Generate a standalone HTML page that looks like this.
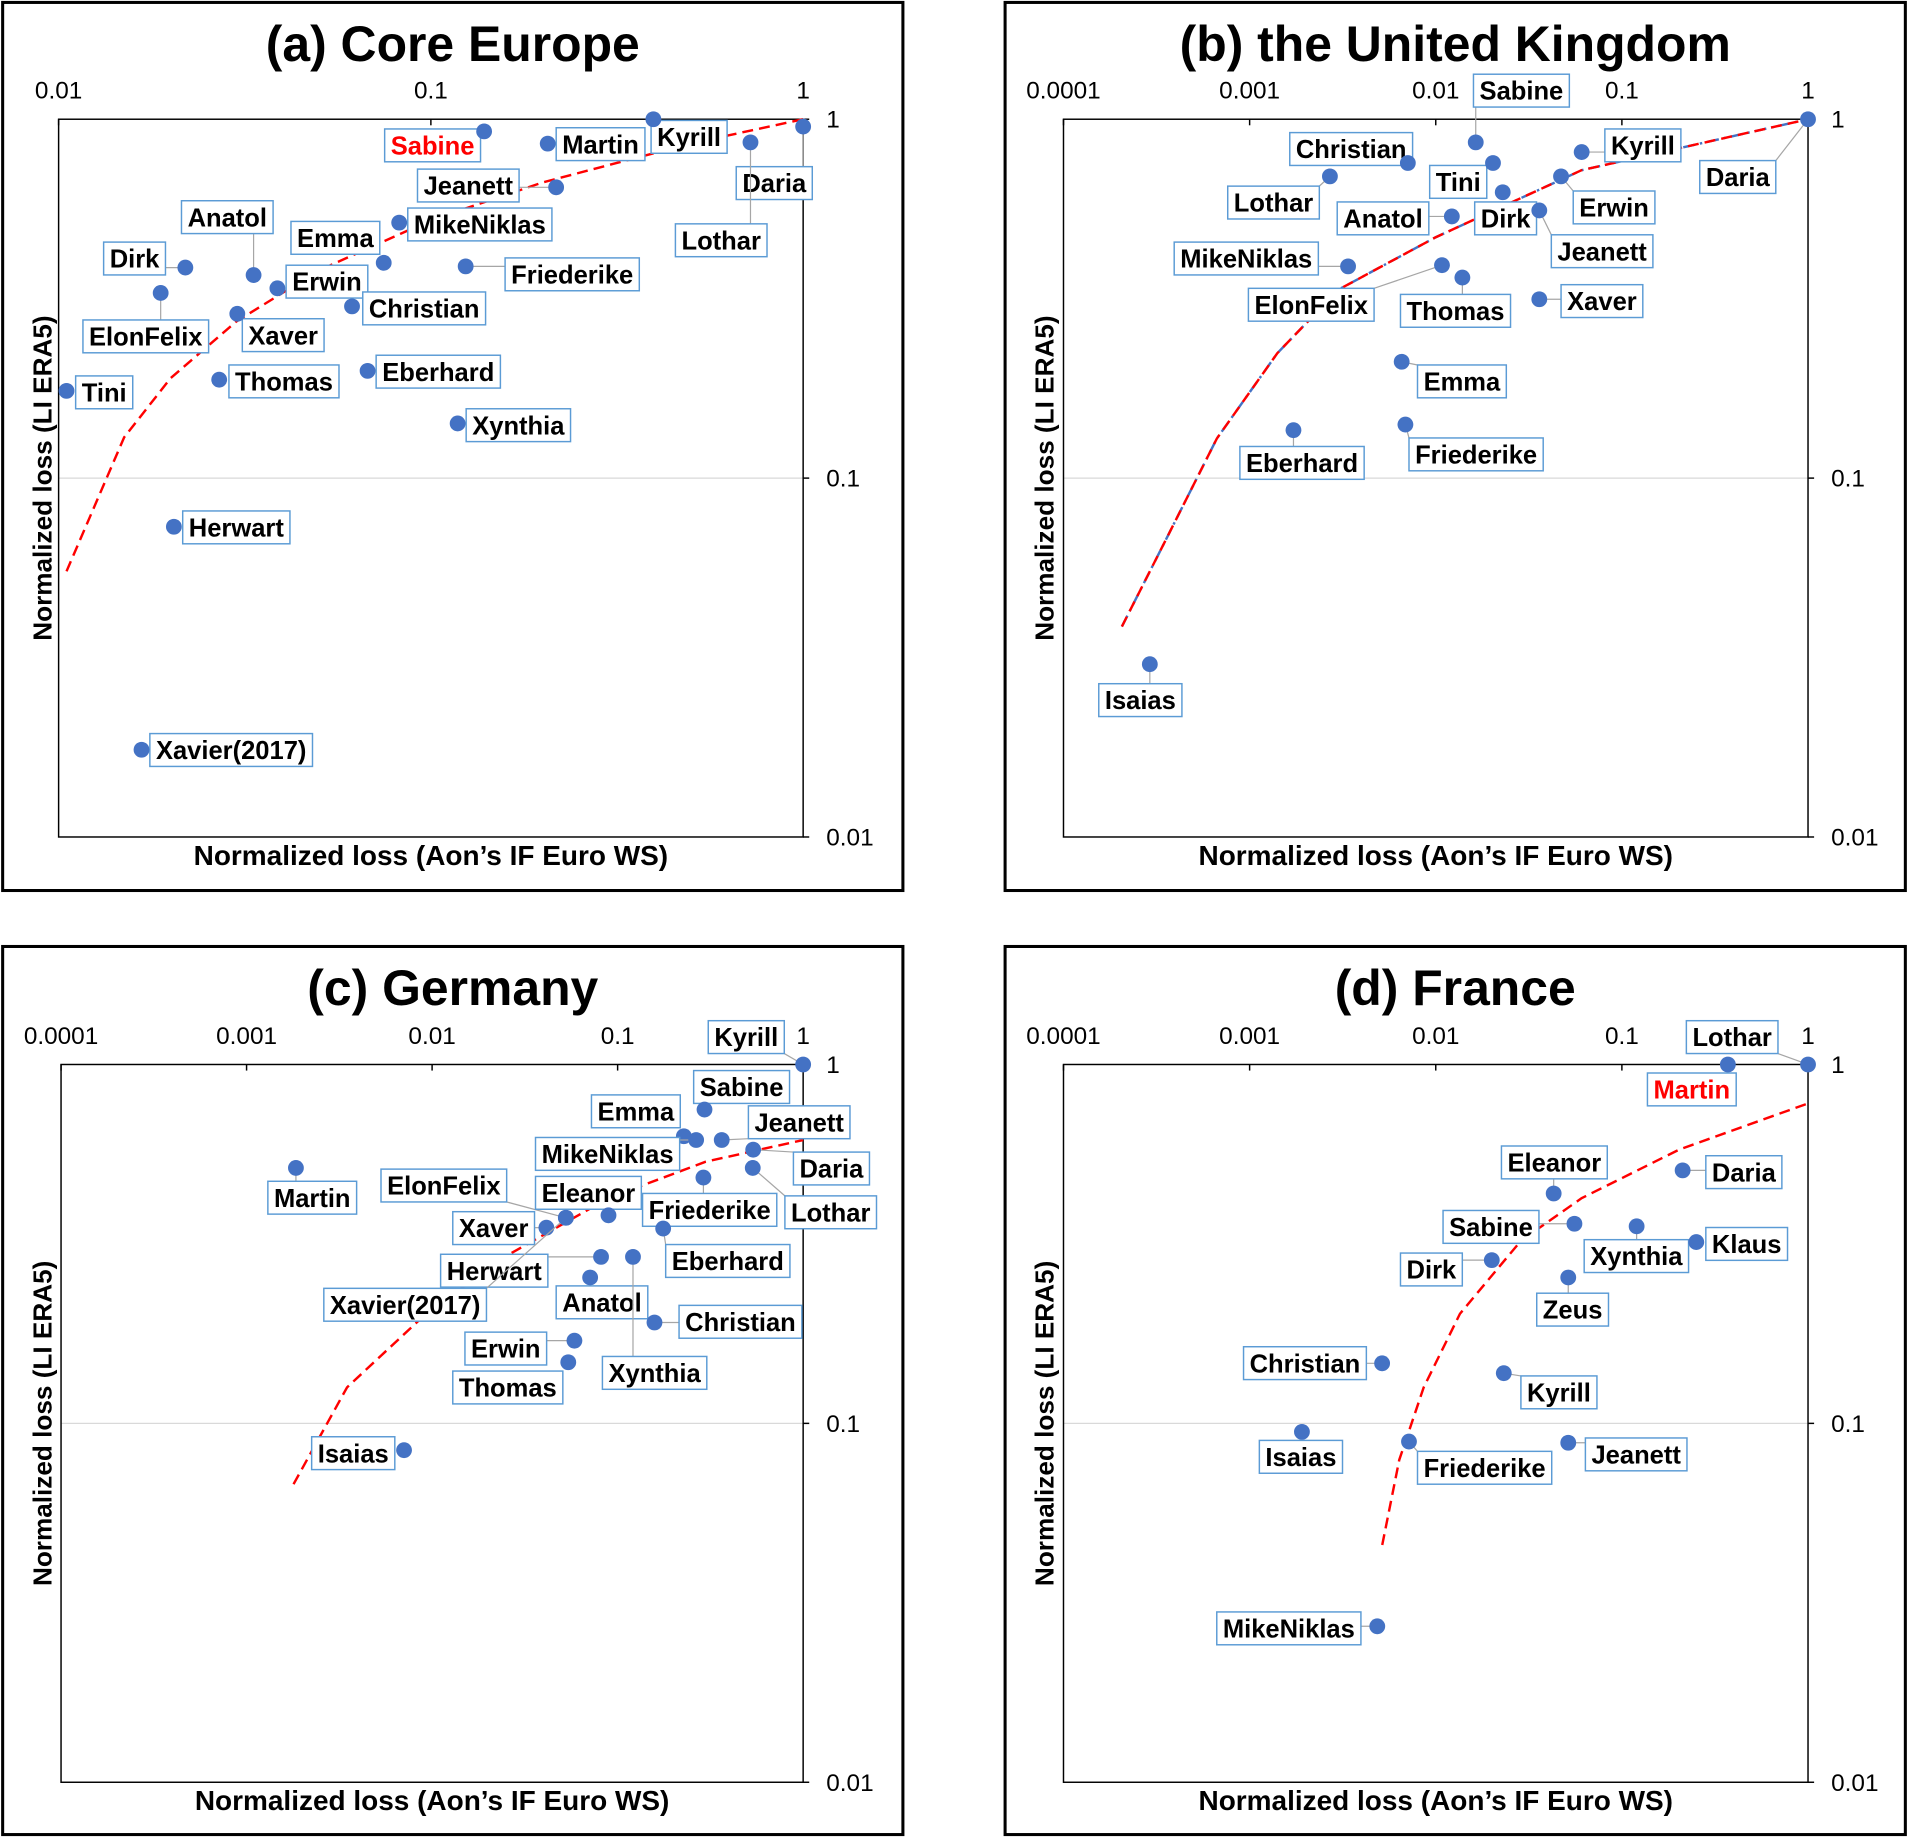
<!DOCTYPE html>
<html><head><meta charset="utf-8">
<style>
html,body{margin:0;padding:0;background:#fff;}
svg{display:block;font-family:"Liberation Sans",Arial,sans-serif;}
</style></head>
<body>
<svg id="chart" width="1908" height="1837" viewBox="0 0 1568 1510" xmlns="http://www.w3.org/2000/svg"></svg>
<script>
// ---------- data ----------
const namesA = ["Sabine","Martin","Kyrill","Daria","Lothar","Jeanett","MikeNiklas","Emma","Anatol","Dirk","Erwin","Friederike","ElonFelix","Xaver","Christian","Thomas","Eberhard","Tini","Xynthia","Herwart","Xavier(2017)"];
const xA = [0.139,0.206,0.396,1.0,0.722,0.217,0.0822,0.0747,0.0334,0.0219,0.0387,0.124,0.0188,0.0302,0.0614,0.027,0.0676,0.0105,0.118,0.0204,0.0167];
const yA = [0.925,0.855,1.0,0.954,0.862,0.646,0.515,0.398,0.368,0.386,0.338,0.389,0.328,0.287,0.301,0.188,0.199,0.175,0.142,0.0732,0.0175];
const fitXA = [0.0105,0.015,0.02,0.03,0.05,0.1,0.2,0.5,1];
const fitYA = [0.055,0.13,0.19,0.273,0.379,0.523,0.667,0.856,1];

const namesB = ["Daria","Kyrill","Sabine","Christian","Tini","Lothar","Erwin","Dirk","Anatol","Jeanett","MikeNiklas","ElonFelix","Thomas","Xaver","Emma","Friederike","Eberhard","Isaias"];
const xB = [1,0.0608,0.0164,0.00708,0.0203,0.0027,0.0471,0.0229,0.0122,0.036,0.00338,0.0108,0.0139,0.036,0.00656,0.00687,0.00172,0.000291];
const yB = [1,0.81,0.862,0.755,0.755,0.693,0.693,0.626,0.536,0.557,0.389,0.392,0.362,0.315,0.211,0.141,0.136,0.0303];
const fitXB = [0.000206,0.000365,0.000667,0.00141,0.003,0.01,0.0608,1];
const fitYB = [0.0386,0.0693,0.129,0.223,0.335,0.469,0.721,1];

const namesC = ["Kyrill","Sabine","Emma","MikeNiklas","Jeanett","Daria","Lothar","Friederike","Martin","ElonFelix","Eleanor","Xaver","Eberhard","Herwart","Anatol","Xavier(2017)","Christian","Xynthia","Erwin","Thomas","Isaias"];
const xC = [1,0.294,0.2275,0.265,0.364,0.538,0.535,0.29,0.001845,0.0526,0.0893,0.0413,0.176,0.0814,0.0711,0.0526,0.158,0.121,0.0585,0.0542,0.00706];
const yC = [1,0.749,0.631,0.616,0.616,0.579,0.515,0.484,0.515,0.374,0.38,0.351,0.349,0.291,0.255,0.374,0.191,0.291,0.17,0.148,0.0842];
const fitXC = [0.00179,0.00348,0.00927,0.0267,0.0893,0.2985,1];
const fitYC = [0.0677,0.126,0.202,0.298,0.424,0.536,0.616];

const namesD = ["Lothar","Martin","Daria","Eleanor","Sabine","Xynthia","Klaus","Dirk","Zeus","Christian","Kyrill","Isaias","Friederike","Jeanett","MikeNiklas"];
const xD = [1,0.371,0.212,0.043,0.0556,0.12,0.251,0.02,0.0515,0.00515,0.0232,0.00191,0.00718,0.0515,0.00485];
const yD = [1,1,0.507,0.437,0.36,0.354,0.32,0.285,0.255,0.147,0.138,0.0947,0.089,0.0883,0.0272];
const fitXD = [0.00516,0.00637,0.00861,0.0135,0.0287,0.0608,0.203,1];
const fitYD = [0.0458,0.0791,0.126,0.202,0.323,0.424,0.579,0.779];

const xTicksA = ["0.01","0.1","1"];
const xTicksWide = ["0.0001","0.001","0.01","0.1","1"];
const yTicks = ["1","0.1","0.01"];

// ---------- layout (label box top-left positions, not data) ----------
const labelPosA = [[316,106],[457,105],[535,99],[605,137],[555,184],[343,139],[335,171],[239,182],[149,165],[85,199],[235,218],[415,212],[68,263],[199,262],[298,240],[188,300],[309,292],[62,309],[383,336],[150,420],[123,603]];
const labelPosB = [[1397,132],[1319,106],[1211,61],[1060,109],[1175,136],[1009,153],[1293,157],[1212,166],[1099,166],[1275,193],[965,199],[1026,237],[1151,242],[1283,234],[1165,300],[1158,360],[1019,367],[903,562]];
const labelPosC = [[582,839],[570,880],[486,900],[440,935],[615,909],[652,947],[645,983],[528,981],[220,971],[313,961],[440,967],[372,996],[547,1023],[362,1031],[457,1057],[266,1059],[558,1073],[495,1115],[382,1095],[372,1127],[256,1181]];
const labelPosD = [[1386,839],[1354,882],[1402,950],[1234,942],[1186,995],[1302,1019],[1402,1009],[1151,1030],[1263,1063],[1022,1107],[1250,1131],[1035,1184],[1165,1193],[1303,1182],[1000,1325]];

const panels = [
 {id:"a",title:"(a) Core Europe",box:[2,2,740,730],plot:[48,98,660,688],xmin:-2,xmax:0,ticks:xTicksA,names:namesA,xs:xA,ys:yA,fx:fitXA,fy:fitYA,pos:labelPosA,red:["Sabine"],dashdot:false},
 {id:"b",title:"(b) the United Kingdom",box:[826,2,740,730],plot:[874,98,1486,688],xmin:-4,xmax:0,ticks:xTicksWide,names:namesB,xs:xB,ys:yB,fx:fitXB,fy:fitYB,pos:labelPosB,red:[],dashdot:true},
 {id:"c",title:"(c) Germany",box:[2,778,740,730],plot:[50,875,660,1465],xmin:-4,xmax:0,ticks:xTicksWide,names:namesC,xs:xC,ys:yC,fx:fitXC,fy:fitYC,pos:labelPosC,red:[],dashdot:false},
 {id:"d",title:"(d) France",box:[826,778,740,730],plot:[874,875,1486,1465],xmin:-4,xmax:0,ticks:xTicksWide,names:namesD,xs:xD,ys:yD,fx:fitXD,fy:fitYD,pos:labelPosD,red:["Martin"],dashdot:false}
];

const NS="http://www.w3.org/2000/svg";
const svg=document.getElementById("chart");
function mk(tag,attrs,parent){const e=document.createElementNS(NS,tag);for(const k in attrs)e.setAttribute(k,attrs[k]);(parent||svg).appendChild(e);return e;}

panels.forEach(p=>{
  const g=mk("g",{});
  
  
  const [L,T,R,B]=p.plot;
  const sx=v=>L+(Math.log10(v)-p.xmin)/(p.xmax-p.xmin)*(R-L);
  const sy=v=>T+(0-Math.log10(v))/2*(B-T);
  const fr=mk("rect",{x:p.box[0],y:p.box[1],width:p.box[2],height:p.box[3],fill:"none",stroke:"#000","stroke-width":2.5},g);
  
  
  const ti=mk("text",{x:p.box[0]+p.box[2]/2,y:p.box[1]+48,"text-anchor":"middle","font-size":41,"font-weight":"bold"},g);
  ti.textContent=p.title;
  
  
  const gl=mk("line",{x1:L,x2:R,y1:sy(0.1),y2:sy(0.1),stroke:"#d9d9d9","stroke-width":1},g);
  
  
  const pb=mk("rect",{x:L,y:T,width:R-L,height:B-T,fill:"none",stroke:"#000","stroke-width":1.2},g);
  
  
  p.ticks.forEach(t=>{
    const x=sx(parseFloat(t));
    const tk=mk("line",{x1:x,x2:x,y1:T,y2:T+5,stroke:"#000","stroke-width":1.2},g);
    
    
    const tl=mk("text",{x:x,y:T-17,"text-anchor":"middle","font-size":20},g);
    tl.textContent=t;
    
    
  });
  yTicks.forEach(t=>{
    const y=sy(parseFloat(t));
    const tk=mk("line",{x1:R,x2:R+5,y1:y,y2:y,stroke:"#000","stroke-width":1.2},g);
    
    
    const tl=mk("text",{x:R+19,y:y+7,"font-size":20},g);
    tl.textContent=t;
    
    
  });
  const xt=mk("text",{x:(L+R)/2,y:B+23,"text-anchor":"middle","font-size":23,"font-weight":"bold"},g);
  xt.textContent="Normalized loss (Aon’s IF Euro WS)";
  
  
  const yx=p.box[0]+40, yy=(T+B)/2;
  const yt=mk("text",{x:yx,y:yy,"text-anchor":"middle","font-size":21.5,"font-weight":"bold",transform:`rotate(-90 ${yx} ${yy})`},g);
  yt.textContent="Normalized loss (LI ERA5)";
  
  
  const d=p.fx.map((v,i)=>(i?"L":"M")+sx(v).toFixed(1)+","+sy(p.fy[i]).toFixed(1)).join(" ");
  if(p.dashdot){
    const bl=mk("path",{d:d,fill:"none",stroke:"#4472c4","stroke-width":2,"stroke-dasharray":"10 4 2 4"},g);
    
    
  }
  const fl=mk("path",{d:d,fill:"none",stroke:"#ff0000","stroke-width":2,"stroke-dasharray":"9 5"},g);
  
  
  p.names.forEach((n,i)=>{
    const px=sx(p.xs[i]), py=sy(p.ys[i]);
    const [bx,by]=p.pos[i];
    const lg=mk("g",{},g);
    
    
    const tx=mk("text",{x:bx+5,y:by+21,"font-size":21,"font-weight":"bold",fill:p.red.includes(n)?"#ff0000":"#000"},lg);
    tx.textContent=n;
    const w=tx.getComputedTextLength()+10, h=27;
    const rc=mk("rect",{x:bx,y:by,width:w,height:h,fill:"#fff",stroke:"#5b9bd5","stroke-width":1.2});
    lg.insertBefore(rc,tx);
    const cx=Math.max(bx,Math.min(px,bx+w)), cy=Math.max(by,Math.min(py,by+h));
    if(Math.hypot(cx-px,cy-py)>9){
      const ln=mk("line",{x1:px,y1:py,x2:cx,y2:cy,stroke:"#a6a6a6","stroke-width":1});
      g.insertBefore(ln,lg);
      
      
    }
    const pt=mk("circle",{cx:px,cy:py,r:6.5,fill:"#4472c4"},g);
    
    
  });
});
</script>
</body></html>
